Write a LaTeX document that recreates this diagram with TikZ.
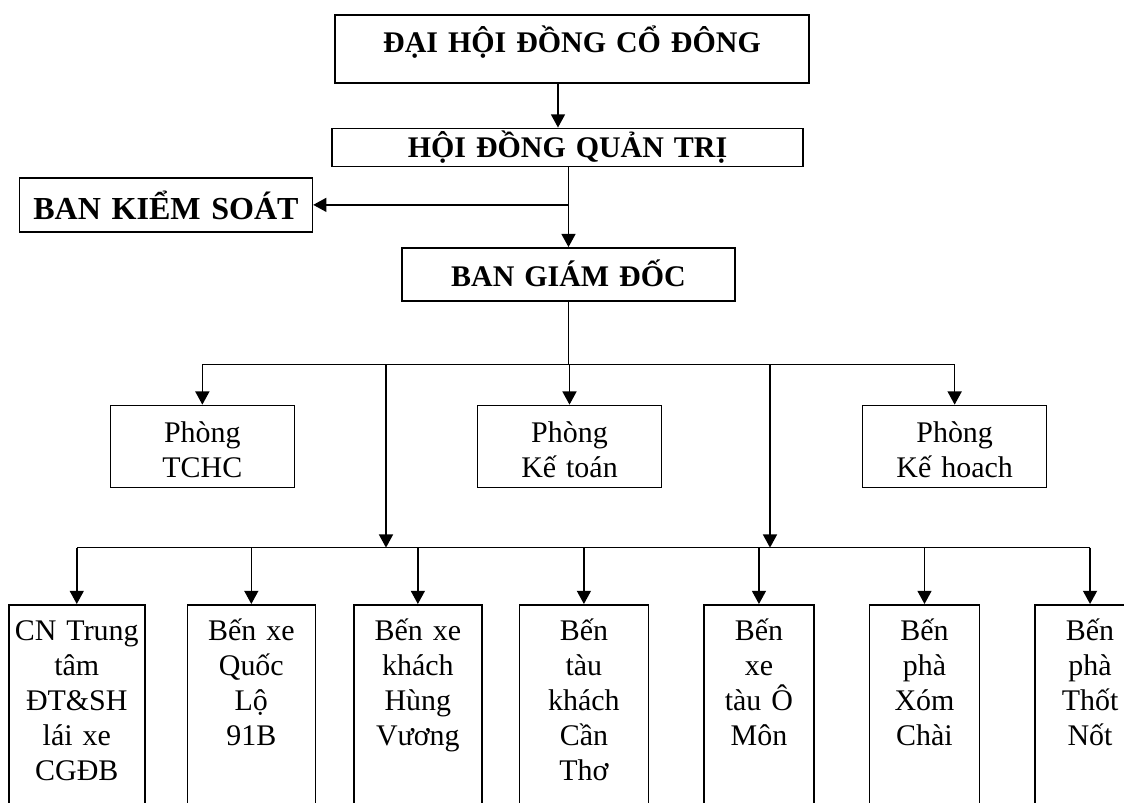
\documentclass[tikz,border=0pt]{standalone}
\usepackage{fontspec}
\setmainfont{Liberation Serif}
\usetikzlibrary{arrows.meta}
\usetikzlibrary{positioning}
\tikzstyle{board}=[rectangle, draw, inner sep=0pt, align=center, font=\fontsize{21.3pt}{24.9pt}\selectfont\bfseries]
\tikzstyle{dept}=[rectangle, draw, inner sep=0pt, align=center, text width=4.6cm, text height=0.925cm, text depth=1.125cm, font=\fontsize{21.3pt}{24.9pt}\selectfont]
\tikzstyle{unit}=[rectangle, draw, inner sep=0pt, align=center, text height=0.9cm, text depth=6cm, font=\fontsize{21.3pt}{24.9pt}\selectfont]

\begin{document}
\begin{tikzpicture}[>={Triangle[length=0.33cm, width=0.35cm]}, line width=1.1pt]
    \useasboundingbox (0,0) rectangle (28.1,-20.05);
    \clip (0,0) rectangle (28.1,-20.05);

    % management
    \node[board, anchor=north, text width=11.85cm, text height=0.95cm, text depth=0.75cm] (DHCD) at (14.3,-0.35) {ĐẠI HỘI ĐỒNG CỔ ĐÔNG};
    \node[board, below=1.1cm of DHCD, xshift=-0.1125cm, text width=11.775cm, text height=0.725cm, text depth=0.225cm] (HDQT) {HỘI ĐỒNG QUẢN TRỊ};
    \node[board, below left=0.25cm and 0.45cm of HDQT, text width=7.325cm, text height=1.05cm, text depth=0.3cm, font=\fontsize{22.8pt}{26pt}\selectfont\bfseries] (BKS) {BAN KIỂM SOÁT};
    \node[board, below=2cm of HDQT, xshift=0.025cm, text width=8.325cm, text height=0.975cm, text depth=0.35cm] (BGD) {BAN GIÁM ĐỐC};

    % departments
    \node[dept, below=2.575cm of BGD, xshift=0.025cm] (KT) {Phòng\\Kế toán};
    \node[dept, left=4.54cm of KT] (TCHC) {Phòng\\TCHC};
    \node[dept, right=4.99cm of KT] (KH) {Phòng\\Kế hoach};

    % units
    \node[unit, anchor=north west, text width=3.4cm] (U1) at (0.2,-15.1) {CN Trung\\tâm\\ĐT\&SH\\lái xe\\CGĐB};
    \node[unit, right=1.025cm of U1, text width=3.2cm] (U2) {Bến xe\\Quốc\\Lộ\\91B};
    \node[unit, right=0.925cm of U2, text width=3.2cm] (U3) {Bến xe\\khách\\Hùng\\Vương};
    \node[unit, right=0.9cm of U3, text width=3.225cm] (U4) {Bến\\tàu\\khách\\Cần\\Thơ};
    \node[unit, right=1.35cm of U4, text width=2.75cm] (U5) {Bến\\xe\\tàu Ô\\Môn};
    \node[unit, right=1.35cm of U5, text width=2.75cm] (U6) {Bến\\phà\\Xóm\\Chài};
    \node[unit, right=1.35cm of U6, text width=2.75cm] (U7) {Bến\\phà\\Thốt\\Nốt};

    % branch points
    \coordinate[left=0.35cm of DHCD.south] (dh);
    \coordinate[below=1.575cm of BGD] (bus);
    \coordinate[left=4.5625cm of bus] (dropL);
    \coordinate[right=5.0375cm of bus] (dropR);
    \coordinate[below=4.575cm of dropL] (lowbus);

    % connectors
    \draw[->] (dh) -- (dh |- HDQT.north);
    \draw[->] (HDQT.south -| BGD.north) -- (BGD.north);
    \draw[->] (BGD.north |- BKS.east) -- (BKS.east);
    \draw (BGD.south) -- (bus);
    \draw (TCHC.north |- bus) -- (KH.north |- bus);
    \draw[->] (TCHC.north |- bus) -- (TCHC.north);
    \draw[->] (KT.north |- bus) -- (KT.north);
    \draw[->] (KH.north |- bus) -- (KH.north);
    \draw[->] (dropL) -- (lowbus);
    \draw[->] (dropR) -- (dropR |- lowbus);
    \draw (U1.north |- lowbus) -- (U7.north |- lowbus);
    \draw[->] (U1.north |- lowbus) -- (U1.north);
    \draw[->] (U2.north |- lowbus) -- (U2.north);
    \draw[->] (U3.north |- lowbus) -- (U3.north);
    \draw[->] (U4.north |- lowbus) -- (U4.north);
    \draw[->] (U5.north |- lowbus) -- (U5.north);
    \draw[->] (U6.north |- lowbus) -- (U6.north);
    \draw[->] (U7.north |- lowbus) -- (U7.north);
\end{tikzpicture}
\end{document}
